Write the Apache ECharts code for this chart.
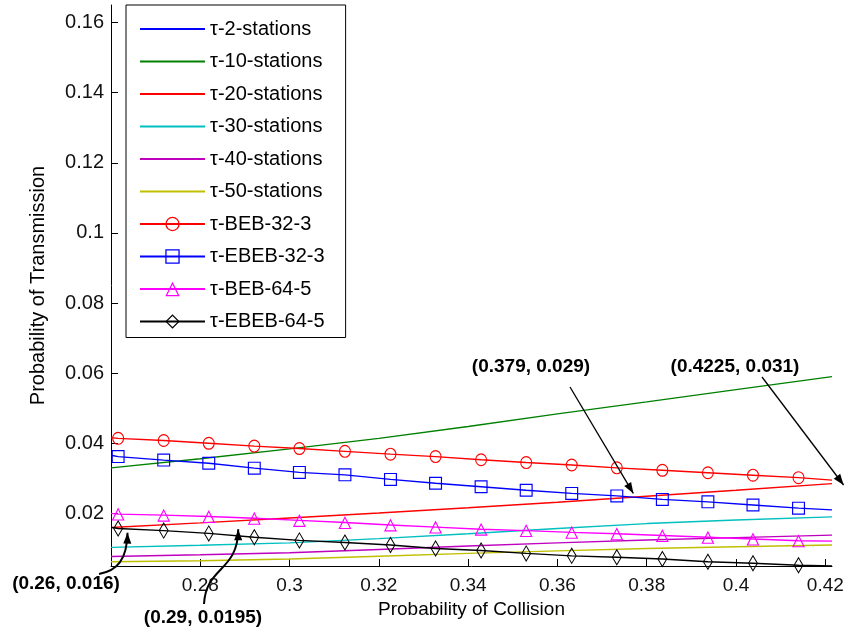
<!DOCTYPE html>
<html><head><meta charset="utf-8">
<script src="https://cdn.jsdelivr.net/npm/echarts@6/dist/echarts.min.js"></script>
<style>html,body{margin:0;padding:0;background:#fff}#c{width:849px;height:635px}</style>
</head><body><div id="c"></div>
<script>
// ---- axis ticks / labels ----
const xTickValues = [0.26, 0.28, 0.30, 0.32, 0.34, 0.36, 0.38, 0.40, 0.42];
const xLabelValues = [0.28, 0.30, 0.32, 0.34, 0.36, 0.38, 0.40, 0.42];
const yTickValues = [0.02, 0.04, 0.06, 0.08, 0.10, 0.12, 0.14, 0.16];
const xRange = [0.26, 0.4215];
const yRange = [0.005, 0.165];

// ---- station curves (no markers) ----
const xStations = [0.26, 0.28, 0.30, 0.32, 0.34, 0.36, 0.38, 0.40, 0.4215];
const tau2 = [];   // off scale (above 0.165)
const tau10 = [0.0330, 0.0356, 0.0384, 0.0414, 0.0448, 0.0484, 0.0518, 0.0553, 0.0590];
const tau20 = [0.0160, 0.0173, 0.0187, 0.0201, 0.0216, 0.0232, 0.0249, 0.0266, 0.0285];
const tau30 = [0.0103, 0.0109, 0.0116, 0.0128, 0.0142, 0.0157, 0.0171, 0.0181, 0.0190];
const tau40 = [0.0077, 0.0082, 0.0088, 0.0097, 0.0107, 0.0116, 0.0124, 0.0131, 0.0138];
const tau50 = [0.0062, 0.0065, 0.0070, 0.0078, 0.0086, 0.0093, 0.0100, 0.0105, 0.0110];

// ---- marker curves ----
const xMarkers = [0.2616, 0.2718, 0.2819, 0.2921, 0.3022, 0.3124, 0.3226, 0.3327, 0.3429, 0.3530, 0.3632, 0.3733, 0.3835, 0.3937, 0.4038, 0.4140];
const xEnds = [0.26, 0.4215];
const beb32 = [0.0414, 0.0408, 0.0400, 0.0392, 0.0385, 0.0377, 0.0369, 0.0362, 0.0353, 0.0345, 0.0338, 0.0330, 0.0323, 0.0316, 0.0309, 0.0302];
const beb32Ends = [0.0416, 0.0295];
const ebeb32 = [0.0362, 0.0352, 0.0343, 0.0329, 0.0317, 0.0310, 0.0297, 0.0286, 0.0276, 0.0266, 0.0257, 0.0250, 0.0240, 0.0233, 0.0224, 0.0215];
const ebeb32Ends = [0.0366, 0.0210];
const beb64 = [0.0198, 0.0195, 0.0191, 0.0186, 0.0180, 0.0174, 0.0167, 0.0161, 0.0155, 0.0151, 0.0146, 0.0142, 0.0137, 0.0132, 0.0127, 0.0122];
const beb64Ends = [0.0200, 0.0121];
const ebeb64 = [0.0157, 0.0151, 0.0143, 0.0132, 0.0123, 0.0117, 0.0110, 0.0100, 0.0094, 0.0086, 0.0079, 0.0075, 0.0070, 0.0062, 0.0058, 0.0052];
const ebeb64Ends = [0.0160, 0.0050];

// ---- annotations ----
const annLabels = ['(0.26, 0.016)', '(0.29, 0.0195)', '(0.379, 0.029)', '(0.4225, 0.031)'];
const annTips = [[0.2637, 0.0145], [0.2885, 0.0155], [0.377, 0.0257], [0.4241, 0.0281]];

const FONT = '"Liberation Sans", Arial, sans-serif';

const paths = {
  circle: 'path://M10 0 A10 10 0 1 1 10 20 A10 10 0 1 1 10 0 Z M10 1.8 A8.2 8.2 0 1 0 10 18.2 A8.2 8.2 0 1 0 10 1.8 Z',
  square: 'path://M0 0 L20 0 L20 20 L0 20 Z M1.8 1.8 L1.8 18.2 L18.2 18.2 L18.2 1.8 Z',
  triangle: 'path://M10 0 L20 20 L0 20 Z M10 3.8 L2.8 18.3 L17.2 18.3 Z',
  diamond: 'path://M10 0 L20 10 L10 20 L0 10 Z M10 2.3 L2.3 10 L10 17.7 L17.7 10 Z'
};

function stationSeries(name, vals, color) {
  return {
    name, type: 'line', symbol: 'none', showSymbol: false, clip: true,
    data: vals.map((v, i) => [xStations[i], v]),
    itemStyle: { color }, lineStyle: { color, width: 1.4 },
    emphasis: { disabled: true }, z: 2
  };
}
function markerSeries(name, vals, ends, color, symbol, size) {
  const data = [{ value: [xEnds[0], ends[0]], symbol: 'none' }]
    .concat(vals.map((v, i) => ({ value: [xMarkers[i], v] })))
    .concat([{ value: [xEnds[1], ends[1]], symbol: 'none' }]);
  return {
    name, type: 'line', symbol, symbolSize: size, showSymbol: true, showAllSymbol: true, clip: true,
    data, itemStyle: { color }, lineStyle: { color, width: 1.4 },
    emphasis: { disabled: true }, z: 3
  };
}

const series = [
  stationSeries('τ-2-stations', tau2, '#0000ff'),
  stationSeries('τ-10-stations', tau10, '#008000'),
  stationSeries('τ-20-stations', tau20, '#ff0000'),
  stationSeries('τ-30-stations', tau30, '#00bfbf'),
  stationSeries('τ-40-stations', tau40, '#bf00bf'),
  stationSeries('τ-50-stations', tau50, '#bfbf00'),
  markerSeries('τ-BEB-32-3', beb32, beb32Ends, '#ff0000', paths.circle, [12, 13]),
  markerSeries('τ-EBEB-32-3', ebeb32, ebeb32Ends, '#0000ff', paths.square, [13, 13]),
  markerSeries('τ-BEB-64-5', beb64, beb64Ends, '#ff00ff', paths.triangle, [13, 13]),
  markerSeries('τ-EBEB-64-5', ebeb64, ebeb64Ends, '#000000', paths.diamond, [10, 17])
];

const legendData = series.map((s, i) => i < 6 ? { name: s.name, itemStyle: { opacity: 0 } } : { name: s.name });

const fmt = v => String(parseFloat((+v).toFixed(4)));

const chart = echarts.init(document.getElementById('c'), null, { renderer: 'canvas' });
chart.setOption({
  animation: false,
  backgroundColor: '#fff',
  textStyle: { fontFamily: FONT },
  grid: { left: 111, right: 17, top: 5, bottom: 69, outerBoundsMode: 'none', containLabel: false },
  legend: {
    orient: 'vertical', left: 126, top: 5,
    itemWidth: 65, itemHeight: 18, itemGap: 12.5,
    padding: [14, 21, 6, 13],
    borderColor: '#000', borderWidth: 1, backgroundColor: '#fff',
    selectedMode: false,
    textStyle: { fontSize: 20, color: '#000', fontFamily: FONT, lineHeight: 20 },
    data: legendData
  },
  xAxis: {
    type: 'value', min: xRange[0], max: xRange[1],
    name: 'Probability of Collision', nameLocation: 'middle', nameGap: 31,
    nameTextStyle: { fontSize: 19, color: '#000', fontFamily: FONT },
    axisLine: { show: true, onZero: false, lineStyle: { color: '#000', width: 1 } },
    axisTick: { show: true, inside: true, length: 7, customValues: xTickValues, lineStyle: { color: '#000' } },
    axisLabel: { customValues: xLabelValues, formatter: fmt, fontSize: 19, color: '#111', margin: 10, fontFamily: FONT },
    splitLine: { show: false }
  },
  yAxis: {
    type: 'value', min: yRange[0], max: yRange[1],
    name: 'Probability of Transmission', nameLocation: 'middle', nameGap: 63,
    nameTextStyle: { fontSize: 20, color: '#000', fontFamily: FONT },
    axisLine: { show: true, onZero: false, lineStyle: { color: '#000', width: 1 } },
    axisTick: { show: true, inside: true, length: 7, customValues: yTickValues, lineStyle: { color: '#000' } },
    axisLabel: { customValues: yTickValues, formatter: fmt, fontSize: 20, color: '#111', margin: 7, fontFamily: FONT },
    splitLine: { show: false }
  },
  tooltip: { show: false },
  series
});

// ---- annotation layout (pixels) ----
const annText = [[66, 584], [203, 618], [531, 367], [735, 367]];
const annStart = [[99, 574], [204, 604], [570, 387], [762, 377]];
const annCtrl = [[[117, 571], [127, 560]], [[206, 566], [238, 572]], null, null];

function arrowHead(from, tip, L, W) {
  const dx = tip[0] - from[0], dy = tip[1] - from[1];
  const d = Math.hypot(dx, dy) || 1;
  const ux = dx / d, uy = dy / d, nx = -uy, ny = ux;
  return [tip, [tip[0] - L * ux + W * nx, tip[1] - L * uy + W * ny], [tip[0] - L * ux - W * nx, tip[1] - L * uy - W * ny]];
}

const graphics = [];
annLabels.forEach((label, i) => {
  const tip = chart.convertToPixel({ gridIndex: 0 }, annTips[i]);
  graphics.push({
    type: 'text', x: annText[i][0], y: annText[i][1], z: 100,
    style: { text: label, fontSize: 19, fontWeight: 'bold', fontFamily: FONT, fill: '#000', align: 'center', verticalAlign: 'middle' }
  });
  const s = annStart[i];
  let dirFrom;
  if (annCtrl[i]) {
    const c1 = annCtrl[i][0], c2 = annCtrl[i][1];
    graphics.push({
      type: 'bezierCurve', z: 100,
      shape: { x1: s[0], y1: s[1], cpx1: c1[0], cpy1: c1[1], cpx2: c2[0], cpy2: c2[1], x2: tip[0], y2: tip[1] },
      style: { stroke: '#000', lineWidth: 2, fill: null }
    });
    dirFrom = c2;
  } else {
    graphics.push({
      type: 'line', z: 100,
      shape: { x1: s[0], y1: s[1], x2: tip[0], y2: tip[1] },
      style: { stroke: '#000', lineWidth: 1.3 }
    });
    dirFrom = s;
  }
  graphics.push({
    type: 'polygon', z: 100,
    shape: { points: arrowHead(dirFrom, tip, 11, 4) },
    style: { fill: '#000' }
  });
});
chart.setOption({ graphic: graphics });
</script>
</body></html>
